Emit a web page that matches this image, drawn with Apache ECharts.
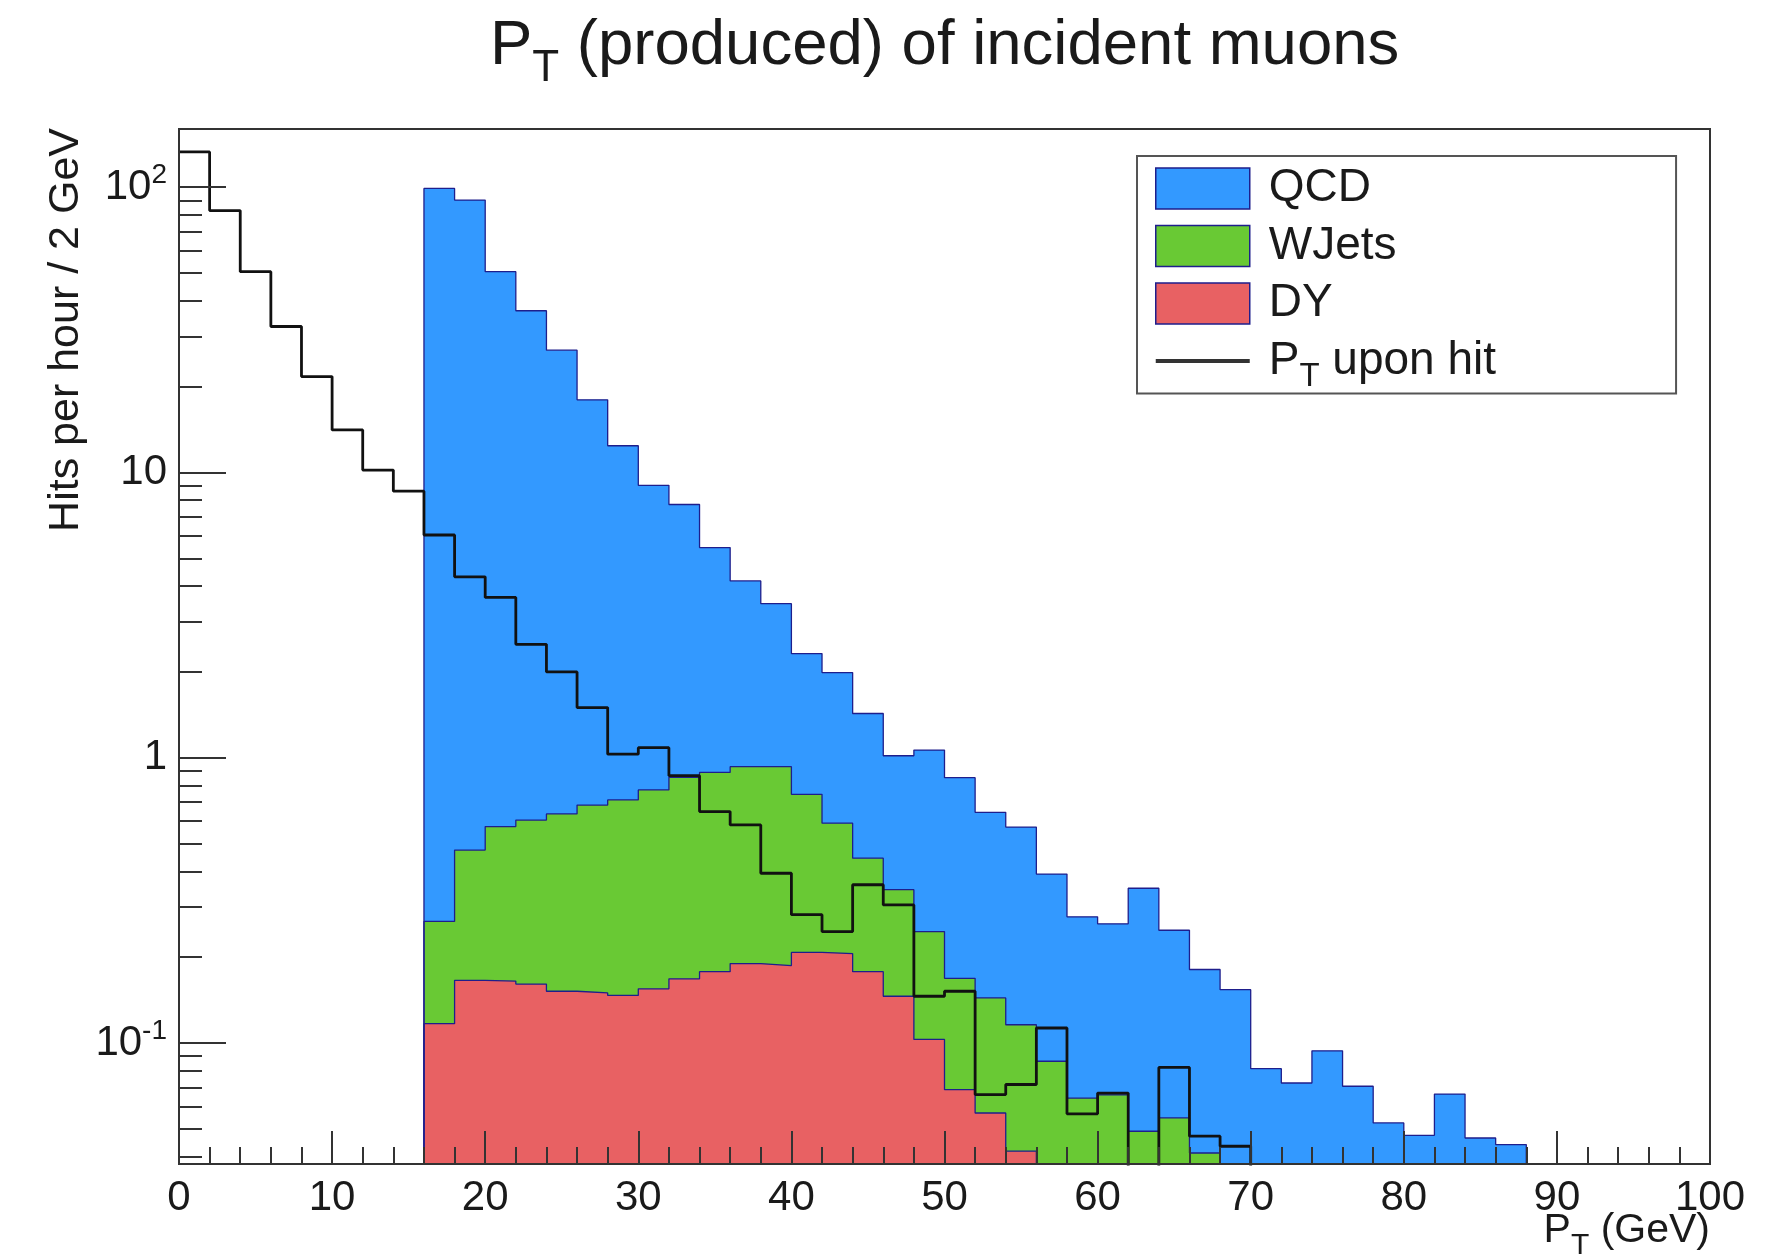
<!DOCTYPE html>
<html>
<head>
<meta charset="utf-8">
<script src="https://cdn.jsdelivr.net/npm/echarts@6/dist/echarts.min.js"></script>
<style>
  html, body { margin: 0; padding: 0; background: #ffffff; }
  #chart { width: 1788px; height: 1258px; }
</style>
</head>
<body>
<div id="chart"></div>
<script>
// Bin edges of the 2 GeV wide P_T bins (GeV)
const binEdges = [0, 2, 4, 6, 8, 10, 12, 14, 16, 18, 20, 22, 24, 26, 28, 30, 32, 34, 36, 38,
  40, 42, 44, 46, 48, 50, 52, 54, 56, 58, 60, 62, 64, 66, 68, 70, 72, 74, 76, 78,
  80, 82, 84, 86, 88, 90, 92, 94, 96, 98, 100];

// Hits per hour per bin, one entry per bin (50 bins)
const qcd = [0, 0, 0, 0, 0, 0, 0, 0, 98.8, 89.7,
  50.0, 36.3, 26.2, 17.3, 11.7, 8.25, 6.87, 4.57, 3.24, 2.54,
  1.575, 1.40, 0.985, 0.672, 0.819, 0.683, 0.500, 0.456, 0.305, 0.213,
  0.196, 0.300, 0.194, 0.140, 0.154, 0.0814, 0.0725, 0.094, 0.0706, 0.0525,
  0.0475, 0.0663, 0.0465, 0.0441, 0, 0, 0, 0, 0, 0];

const wjets = [0, 0, 0, 0, 0, 0, 0, 0, 0.150, 0.309,
  0.409, 0.444, 0.484, 0.533, 0.565, 0.617, 0.687, 0.711, 0.741, 0.744,
  0.537, 0.384, 0.267, 0.199, 0.143, 0.100, 0.0871, 0.0742, 0.0864, 0.0642,
  0.0659, 0.0491, 0.0547, 0.0412, 0, 0, 0, 0, 0, 0,
  0, 0, 0, 0, 0, 0, 0, 0, 0, 0];

const dy = [0, 0, 0, 0, 0, 0, 0, 0, 0.117, 0.166,
  0.165, 0.161, 0.152, 0.150, 0.147, 0.155, 0.168, 0.178, 0.190, 0.187,
  0.208, 0.206, 0.178, 0.146, 0.103, 0.0687, 0.0569, 0.0418, 0, 0,
  0, 0, 0, 0, 0, 0, 0, 0, 0, 0,
  0, 0, 0, 0, 0, 0, 0, 0, 0, 0];

// P_T of the muons when they hit
const ptUponHit = [133, 82.8, 50.6, 32.5, 21.7, 14.1, 10.2, 8.6, 6.04, 4.31,
  3.65, 2.50, 2.00, 1.50, 1.03, 1.085, 0.866, 0.648, 0.582, 0.394,
  0.282, 0.246, 0.359, 0.305, 0.146, 0.152, 0.066, 0.0716, 0.113, 0.0565,
  0.0668, 0, 0.0822, 0.0472, 0.0435, 0, 0, 0, 0, 0,
  0, 0, 0, 0, 0, 0, 0, 0, 0, 0];

// Axis ranges and tick positions
const yRange = [0.0377, 160];
const xRange = [0, 100];
const yMajorTicks = [0.1, 1, 10, 100];
const yMajorLabels = [['10', '-1'], ['1', ''], ['10', ''], ['10', '2']];
const yMinorTicks = [0.04, 0.05, 0.06, 0.07, 0.08, 0.09,
  0.2, 0.3, 0.4, 0.5, 0.6, 0.7, 0.8, 0.9,
  2, 3, 4, 5, 6, 7, 8, 9,
  20, 30, 40, 50, 60, 70, 80, 90];

const FONT = '"Liberation Sans", Arial, Helvetica, sans-serif';
const INK = '#1a1a1a';
const FRAME = '#333333';
const OUTLINE = '#1e1e8c';
const COLORS = { qcd: '#3399ff', wjets: '#69c934', dy: '#e86163', hit: '#111111' };

// Empty bins cannot sit on a log scale: park them below the visible floor
const EMPTY_BIN = 1e-3;

// Stack the samples the way a THStack does: DY at the bottom, QCD on top
const stackDY = dy.slice();
const stackWJ = dy.map((v, i) => v + wjets[i]);
const stackQCD = stackWJ.map((v, i) => v + qcd[i]);

function stepData(values) {
  const pts = values.map((v, i) => [binEdges[i], v > 0 ? v : EMPTY_BIN]);
  const last = values[values.length - 1];
  pts.push([binEdges[values.length], last > 0 ? last : EMPTY_BIN]);
  return pts;
}

function filledHist(name, values, color) {
  return {
    type: 'line', name: name, data: stepData(values), step: 'end',
    symbol: 'none', showSymbol: false, clip: true, silent: true,
    color: color,
    lineStyle: { color: OUTLINE, width: 1.3 },
    areaStyle: { color: color, opacity: 1, origin: 'start' },
    emphasis: { disabled: true }
  };
}

const txt = (size, extra) => Object.assign({ fontFamily: FONT, fontSize: size, color: INK, fontWeight: 'normal' }, extra || {});
const zrTxt = (size, extra) => Object.assign({ fontFamily: FONT, fontSize: size, fill: INK, fontWeight: 'normal' }, extra || {});

const chart = echarts.init(document.getElementById('chart'), null, { renderer: 'canvas', width: 1788, height: 1258 });

chart.setOption({
  animation: false,
  backgroundColor: '#ffffff',
  textStyle: { fontFamily: FONT },
  title: {
    text: '{a|P}{s|T}{a| (produced) of incident muons}',
    left: 490, top: 11, padding: 0,
    textStyle: txt(63.5, {
      rich: {
        a: txt(63.5, { lineHeight: 70 }),
        s: txt(44, { lineHeight: 70, padding: [46, 0, 0, 0] })
      }
    })
  },
  grid: {
    left: 179, right: 78, top: 129, bottom: 94,
    show: true, borderColor: FRAME, borderWidth: 2, backgroundColor: 'transparent',
    containLabel: false, outerBoundsMode: 'none'
  },
  legend: {
    orient: 'vertical', left: 1137, top: 156,
    padding: [0, 180, 0, 18],
    itemWidth: 94, itemHeight: 41, itemGap: -7.5,
    backgroundColor: '#ffffff', borderColor: '#555555', borderWidth: 2,
    selectedMode: false,
    formatter: name => name === 'PT upon hit' ? '{a|P}{s|T}{a| upon hit}' : '{a|' + name + '}{s| }',
    textStyle: txt(46, {
      padding: [0, 0, 0, 14],
      rich: {
        a: txt(46, { lineHeight: 41 }),
        s: txt(33, { lineHeight: 41, padding: [32, 0, 0, 0] })
      }
    }),
    data: [
      { name: 'QCD', icon: 'rect', itemStyle: { color: COLORS.qcd, borderColor: OUTLINE, borderWidth: 1.5 } },
      { name: 'WJets', icon: 'rect', itemStyle: { color: COLORS.wjets, borderColor: OUTLINE, borderWidth: 1.5 } },
      { name: 'DY', icon: 'rect', itemStyle: { color: COLORS.dy, borderColor: OUTLINE, borderWidth: 1.5 } },
      { name: 'PT upon hit', icon: 'path://M0 0H100V4H0Z', itemStyle: { color: '#333333', borderWidth: 0 } }
    ]
  },
  xAxis: {
    type: 'value', min: xRange[0], max: xRange[1], interval: 10, z: 10,
    axisLine: { show: true, onZero: false, lineStyle: { color: FRAME, width: 2 } },
    axisTick: { show: true, inside: true, length: 33, lineStyle: { color: FRAME, width: 2 } },
    minorTick: { show: true, splitNumber: 5, length: 17, lineStyle: { color: FRAME, width: 2 } },
    axisLabel: txt(42, { margin: 13 }),
    splitLine: { show: false }, minorSplitLine: { show: false }
  },
  yAxis: [
    {
      type: 'log', logBase: 10, min: yRange[0], max: yRange[1], z: 10,
      axisLine: { show: true, lineStyle: { color: FRAME, width: 2 } },
      axisTick: { show: true, inside: true, length: 47, customValues: yMajorTicks, lineStyle: { color: FRAME, width: 2 } },
      axisLabel: {
        show: true, margin: 12, customValues: yMajorTicks,
        formatter: v => {
          const k = yMajorTicks.findIndex(t => Math.abs(Math.log10(t) - Math.log10(v)) < 1e-6);
          if (k < 0) return '';
          const [m, e] = yMajorLabels[k];
          return '{b|' + m + '}' + (e ? '{u|' + e + '}' : '');
        },
        rich: {
          b: txt(42, { lineHeight: 48 }),
          u: txt(28, { lineHeight: 48, padding: [0, 0, 23, 0] })
        }
      },
      splitLine: { show: false }, minorTick: { show: false }, minorSplitLine: { show: false }
    },
    {
      type: 'log', logBase: 10, min: yRange[0], max: yRange[1], position: 'left', offset: 0, z: 10,
      axisLine: { show: false },
      axisTick: { show: true, inside: true, length: 23, customValues: yMinorTicks, lineStyle: { color: FRAME, width: 2 } },
      axisLabel: { show: false },
      splitLine: { show: false }, minorTick: { show: false }
    }
  ],
  graphic: [
    {
      // y axis title, aligned to the top end of the axis
      type: 'text', x: 66, y: 128, rotation: Math.PI / 2, z: 20,
      style: { text: 'Hits per hour / 2 GeV', font: '43px ' + FONT, fill: INK, align: 'right', verticalAlign: 'middle' }
    },
    {
      // x axis title, aligned to the right end of the axis
      type: 'text', x: 1710, y: 1231, z: 20,
      style: {
        text: '{a|P}{s|T}{a| (GeV)}', align: 'right', verticalAlign: 'middle',
        rich: {
          a: zrTxt(41, { lineHeight: 50 }),
          s: zrTxt(30, { lineHeight: 50, padding: [29, 0, 0, 0] })
        }
      }
    }
  ],
  series: [
    filledHist('QCD', stackQCD, COLORS.qcd),
    filledHist('WJets', stackWJ, COLORS.wjets),
    filledHist('DY', stackDY, COLORS.dy),
    {
      type: 'line', name: 'PT upon hit', data: stepData(ptUponHit), step: 'end',
      symbol: 'none', showSymbol: false, clip: true, silent: true,
      color: COLORS.hit,
      lineStyle: { color: COLORS.hit, width: 2.8 },
      emphasis: { disabled: true }
    }
  ]
});
</script>
</body>
</html>
